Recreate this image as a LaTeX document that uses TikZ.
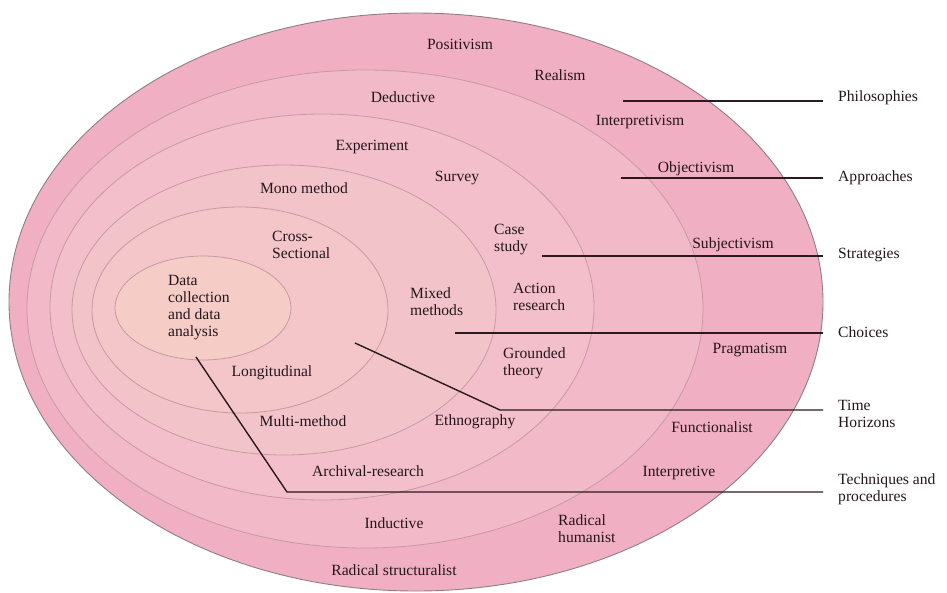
\documentclass[tikz,border=0pt]{standalone}
\usepackage{fontspec}
\setmainfont{Liberation Serif}
\definecolor{txt}{HTML}{24161C}
\definecolor{leadc}{HTML}{2A1A1E}
\definecolor{outerline}{HTML}{8C7F85}
\definecolor{ringline}{HTML}{C69AA4}
\definecolor{f1}{HTML}{F1AFC3}
\definecolor{f2}{HTML}{F2B9C8}
\definecolor{f3}{HTML}{F3BFCA}
\definecolor{f4}{HTML}{F3C3CA}
\definecolor{f5}{HTML}{F4C6CA}
\definecolor{f6}{HTML}{F5CCC6}
\begin{document}
\begin{tikzpicture}[x=1pt,y=-1pt,
  lab/.style={font=\fontsize{15.6}{17}\selectfont, text=txt, inner sep=0pt, align=left},
  side/.style={lab, anchor=west},
  ring/.style={draw=ringline, line width=0.8pt},
  lead/.style={draw=leadc, line width=1.4pt, line cap=butt}]
\useasboundingbox (0,0) rectangle (947,592);
% onion layers
\filldraw[fill=f1, draw=outerline, line width=0.9pt] (416,302) ellipse [x radius=407pt, y radius=289pt];
\filldraw[fill=f2, ring] (365,309) ellipse [x radius=338pt, y radius=239pt];
\filldraw[fill=f3, ring] (322,307) ellipse [x radius=272pt, y radius=193pt];
\filldraw[fill=f4, ring] (284,310) ellipse [x radius=212pt, y radius=145pt];
\filldraw[fill=f5, ring] (240,310) ellipse [x radius=148pt, y radius=103pt];
\filldraw[fill=f6, ring] (203,308) ellipse [x radius=88pt, y radius=52pt];
% philosophies
\node[lab] (positivism) at (460,44) {Positivism};
\node[lab] (realism) at (560,75) {Realism};
\node[lab] (interpretivism) at (640,122) {Interpretivism};
\node[lab] (objectivism) at (696,169) {Objectivism};
\node[lab] (subjectivism) at (733,245) {Subjectivism};
\node[lab] (pragmatism) at (750,350) {Pragmatism};
\node[lab] (functionalist) at (712,427) {Functionalist};
\node[lab] (interpretive) at (679,473) {Interpretive};
\node[lab, anchor=west] (radhum) at (558,528.5) {Radical\\humanist};
\node[lab] (radstruct) at (394,570) {Radical structuralist};
% approaches
\node[lab] (deductive) at (403,97) {Deductive};
\node[lab] (inductive) at (394,523) {Inductive};
% strategies
\node[lab] (experiment) at (372,147) {Experiment};
\node[lab] (survey) at (457,178) {Survey};
\node[lab, anchor=west] (casestudy) at (494,240) {Case\\study};
\node[lab, anchor=west] (action) at (513,297) {Action\\research};
\node[lab, anchor=west] (grounded) at (503,363) {Grounded\\theory};
\node[lab] (ethno) at (475,422) {Ethnography};
\node[lab] (archival) at (368,471) {Archival-research};
% choices
\node[lab] (mono) at (304,188) {Mono method};
\node[lab, anchor=west] (mixed) at (410,302) {Mixed\\methods};
\node[lab] (multi) at (303,421) {Multi-method};
% time horizons
\node[lab, anchor=west] (cross) at (272,244.5) {Cross-\\Sectional};
\node[lab] (longi) at (272,373) {Longitudinal};
% core
\node[lab, anchor=west] (core) at (168,308) {Data\\collection\\and data\\analysis};
% side labels
\node[side] (philo) at (838,98) {Philosophies};
\node[side] (appro) at (838,178) {Approaches};
\node[side] (strat) at (838,255) {Strategies};
\node[side] (choice) at (838,332) {Choices};
\node[side] (timeh) at (838,413.5) {Time\\Horizons};
\node[side] (techn) at (838,489) {Techniques and\\procedures};
% leader lines
\coordinate (philoS) at (623,101);
\coordinate (approS) at (621,178);
\coordinate (stratS) at (542,256);
\coordinate (choiceS) at (455,333);
\coordinate (timeS) at (355,343);
\coordinate (timeB) at (500,410);
\coordinate (technS) at (196,357);
\coordinate (technB) at (287,492);
\draw[lead] (philoS) -- ([xshift=-15pt]philo.west |- philoS);
\draw[lead] (approS) -- ([xshift=-15pt]appro.west |- approS);
\draw[lead] (stratS) -- ([xshift=-15pt]strat.west |- stratS);
\draw[lead] (choiceS) -- ([xshift=-15pt]choice.west |- choiceS);
\draw[lead] (timeS) -- (timeB) -- ([xshift=-15pt]timeh.west |- timeB);
\draw[lead] (technS) -- (technB) -- ([xshift=-15pt]techn.west |- technB);
\end{tikzpicture}
\end{document}
